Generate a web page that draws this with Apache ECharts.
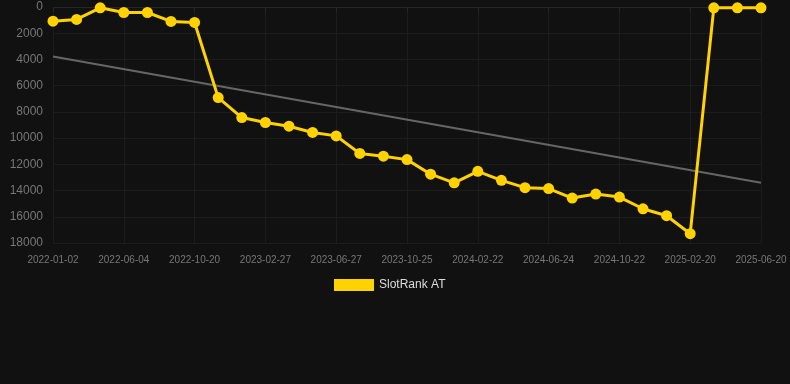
<!DOCTYPE html>
<html><head><meta charset="utf-8">
<script src="https://cdn.jsdelivr.net/npm/echarts@6/dist/echarts.min.js"></script>
<style>html,body{margin:0;padding:0;background:#111111;}#c{width:790px;height:384px;}</style>
</head><body><div id="c"></div>
<script>
const categories = [
  '2022-01-02','2022-02-22','2022-04-14','2022-06-04','2022-07-20','2022-09-04',
  '2022-10-20','2022-12-08','2023-01-18','2023-02-27','2023-04-08','2023-05-18',
  '2023-06-27','2023-08-06','2023-09-15','2023-10-25','2023-12-04','2024-01-13',
  '2024-02-22','2024-04-01','2024-05-14','2024-06-24','2024-08-03','2024-09-12',
  '2024-10-22','2024-12-01','2025-01-10','2025-02-20','2025-04-01','2025-05-11',
  '2025-06-20'
];
const rankValues = [
  1080, 950, 60, 420, 420, 1100, 1180, 6910, 8430, 8810, 9090, 9570,
  9830, 11170, 11380, 11640, 12750, 13410, 12530, 13220, 13780, 13850,
  14570, 14270, 14500, 15390, 15920, 17290, 60, 60, 60
];
const trendStart = 3770;
const trendEnd = 13410;
const yTicks = { min: 0, max: 18000, interval: 2000 };

const trendData = categories.map((c, i) =>
  i === 0 ? trendStart : (i === categories.length - 1 ? trendEnd : null));

const chart = echarts.init(document.getElementById('c'));
chart.setOption({
  backgroundColor: '#111111',
  animation: false,
  grid: { left: 53, right: 29, top: 7, bottom: 141, containLabel: false },
  legend: {
    data: ['SlotRank AT'],
    top: 279,
    left: 334,
    padding: 0,
    itemWidth: 40,
    itemHeight: 12,
    icon: 'rect',
    textStyle: { color: '#dddddd', fontSize: 12 }
  },
  xAxis: {
    type: 'category',
    data: categories,
    boundaryGap: false,
    axisLine: { lineStyle: { color: '#262626' } },
    axisTick: { show: true, interval: 2, lineStyle: { color: '#262626' } },
    axisLabel: { interval: 2, color: '#777777', fontSize: 10, margin: 12 },
    splitLine: { show: true, interval: 2, lineStyle: { color: '#1c1c1c' } }
  },
  yAxis: {
    type: 'value',
    inverse: true,
    min: yTicks.min, max: yTicks.max, interval: yTicks.interval,
    axisLine: { show: false },
    axisTick: { show: false },
    axisLabel: { color: '#777777', fontSize: 12, margin: 10, formatter: v => String(v) },
    splitLine: { lineStyle: { color: '#1c1c1c' } }
  },
  series: [
    {
      name: 'SlotRank AT',
      type: 'line',
      data: rankValues,
      symbol: 'circle',
      symbolSize: 11,
      lineStyle: { color: '#FFD200', width: 3 },
      itemStyle: { color: '#FFD200' },
      z: 3
    },
    {
      name: 'trend',
      type: 'line',
      data: trendData,
      connectNulls: true,
      symbol: 'none',
      lineStyle: { color: '#666666', width: 2 },
      z: 2
    }
  ]
});
</script></body></html>
